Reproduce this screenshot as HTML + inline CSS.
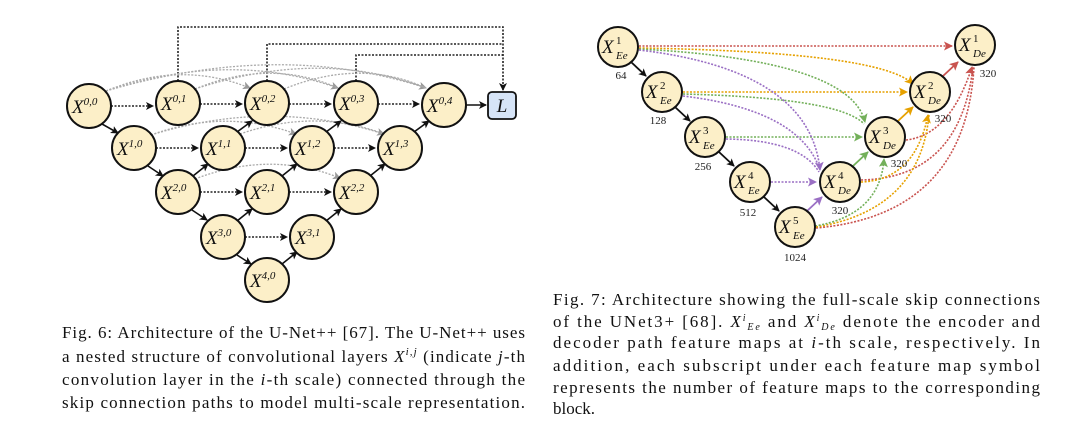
<!DOCTYPE html>
<html><head><meta charset="utf-8"><style>
html,body{margin:0;padding:0;background:#fff;}
svg{display:block;}
.cap{font-family:"Liberation Serif",serif;font-size:17px;fill:#111;}
.n{fill:#fcefc8;stroke:#111;stroke-width:2;}
.x{font-family:"Liberation Serif",serif;font-style:italic;font-size:19px;fill:#111;}
.s{font-family:"Liberation Serif",serif;font-size:11px;fill:#111;}
.num{font-family:"Liberation Serif",serif;font-size:11px;fill:#222;}
.dk{stroke:#222;stroke-width:1.6;stroke-dasharray:2 1.5;fill:none;}
.gr{stroke:#aaa;stroke-width:1.3;stroke-dasharray:2 1.5;fill:none;}
.sl{stroke:#111;stroke-width:1.6;fill:none;}
</style></head><body>
<svg width="1080" height="434" viewBox="0 0 1080 434" xmlns="http://www.w3.org/2000/svg">
<defs>
<marker id="ak" markerWidth="8" markerHeight="8" refX="7" refY="4" orient="auto" markerUnits="userSpaceOnUse"><path d="M0,0 L8,4 L0,8 L2,4z" fill="#111"/></marker>
<marker id="ag" markerWidth="8" markerHeight="8" refX="7" refY="4" orient="auto" markerUnits="userSpaceOnUse"><path d="M0,0 L8,4 L0,8 L2,4z" fill="#999"/></marker>
<marker id="ar" markerWidth="9" markerHeight="9" refX="8" refY="4.5" orient="auto" markerUnits="userSpaceOnUse"><path d="M0,0 L9,4.5 L0,9 L2,4.5z" fill="#c9534f"/></marker>
<marker id="ao" markerWidth="9" markerHeight="9" refX="8" refY="4.5" orient="auto" markerUnits="userSpaceOnUse"><path d="M0,0 L9,4.5 L0,9 L2,4.5z" fill="#e6a100"/></marker>
<marker id="agn" markerWidth="9" markerHeight="9" refX="8" refY="4.5" orient="auto" markerUnits="userSpaceOnUse"><path d="M0,0 L9,4.5 L0,9 L2,4.5z" fill="#73b05a"/></marker>
<marker id="ap" markerWidth="9" markerHeight="9" refX="8" refY="4.5" orient="auto" markerUnits="userSpaceOnUse"><path d="M0,0 L9,4.5 L0,9 L2,4.5z" fill="#9a6fc4"/></marker>
</defs>

<!-- LEFT: top deep supervision lines -->
<path class="dk" d="M178,81 V27 H503 V90" marker-end="url(#ak)"/>
<path class="dk" d="M267,81 V44 H503"/>
<path class="dk" d="M356,81 V55 H503"/>

<!-- gray skip arcs row0 -->
<path class="gr" d="M106,91 Q180,60 250,88" marker-end="url(#ag)"/>
<path class="gr" d="M106,91 Q230,50 338,88" marker-end="url(#ag)"/>
<path class="gr" d="M106,91 Q280,40 426,88" marker-end="url(#ag)"/>
<path class="gr" d="M195,89 Q270,58 338,88"/>
<path class="gr" d="M195,89 Q320,48 426,88"/>
<path class="gr" d="M284,89 Q360,58 426,88"/>
<!-- row1 -->
<path class="gr" d="M151,135 Q225,108 296,134" marker-end="url(#ag)"/>
<path class="gr" d="M151,135 Q270,98 384,134" marker-end="url(#ag)"/>
<path class="gr" d="M240,134 Q315,108 384,134"/>
<!-- row2 -->
<path class="gr" d="M195,179 Q270,150 340,178" marker-end="url(#ag)"/>

<!-- horizontal dotted -->
<g class="dk">
<path d="M111,106 H153" marker-end="url(#ak)"/>
<path d="M200,104 H242" marker-end="url(#ak)"/>
<path d="M289,104 H331" marker-end="url(#ak)"/>
<path d="M378,104 H419" marker-end="url(#ak)"/>
<path d="M156,148 H198" marker-end="url(#ak)"/>
<path d="M245,148 H287" marker-end="url(#ak)"/>
<path d="M334,148 H375" marker-end="url(#ak)"/>
<path d="M200,192 H242" marker-end="url(#ak)"/>
<path d="M289,192 H331" marker-end="url(#ak)"/>
<path d="M245,237 H287" marker-end="url(#ak)"/>
</g>
<!-- solid diagonals -->
<g class="sl">
<path d="M102,124 L118,133" marker-end="url(#ak)"/>
<path d="M148,166 L163,176" marker-end="url(#ak)"/>
<path d="M192,210 L207,220" marker-end="url(#ak)"/>
<path d="M237,255 L251,264" marker-end="url(#ak)"/>
<path d="M193,176 L208,164" marker-end="url(#ak)"/>
<path d="M237,132 L252,121" marker-end="url(#ak)"/>
<path d="M237,221 L252,209" marker-end="url(#ak)"/>
<path d="M282,176 L297,164" marker-end="url(#ak)"/>
<path d="M326,132 L341,121" marker-end="url(#ak)"/>
<path d="M282,264 L297,252" marker-end="url(#ak)"/>
<path d="M326,221 L341,209" marker-end="url(#ak)"/>
<path d="M370,176 L385,164" marker-end="url(#ak)"/>
<path d="M414,132 L429,121" marker-end="url(#ak)"/>
<path d="M466,105 H486" marker-end="url(#ak)"/>
</g>
<rect x="488" y="92" width="28" height="27" rx="4" fill="#d6e4f7" stroke="#111" stroke-width="1.8"/>
<text x="502" y="112" class="x" text-anchor="middle">L</text>

<!-- LEFT nodes -->
<g>
<circle class="n" cx="89" cy="106" r="22"/><text x="72" y="113" class="x">X<tspan class="s" dy="-8">0,0</tspan></text>
<circle class="n" cx="178" cy="103" r="22"/><text x="161" y="110" class="x">X<tspan class="s" dy="-8">0,1</tspan></text>
<circle class="n" cx="267" cy="103" r="22"/><text x="250" y="110" class="x">X<tspan class="s" dy="-8">0,2</tspan></text>
<circle class="n" cx="356" cy="103" r="22"/><text x="339" y="110" class="x">X<tspan class="s" dy="-8">0,3</tspan></text>
<circle class="n" cx="444" cy="105" r="22"/><text x="427" y="112" class="x">X<tspan class="s" dy="-8">0,4</tspan></text>
<circle class="n" cx="134" cy="148" r="22"/><text x="117" y="155" class="x">X<tspan class="s" dy="-8">1,0</tspan></text>
<circle class="n" cx="223" cy="148" r="22"/><text x="206" y="155" class="x">X<tspan class="s" dy="-8">1,1</tspan></text>
<circle class="n" cx="312" cy="148" r="22"/><text x="295" y="155" class="x">X<tspan class="s" dy="-8">1,2</tspan></text>
<circle class="n" cx="400" cy="148" r="22"/><text x="383" y="155" class="x">X<tspan class="s" dy="-8">1,3</tspan></text>
<circle class="n" cx="178" cy="192" r="22"/><text x="161" y="199" class="x">X<tspan class="s" dy="-8">2,0</tspan></text>
<circle class="n" cx="267" cy="192" r="22"/><text x="250" y="199" class="x">X<tspan class="s" dy="-8">2,1</tspan></text>
<circle class="n" cx="356" cy="192" r="22"/><text x="339" y="199" class="x">X<tspan class="s" dy="-8">2,2</tspan></text>
<circle class="n" cx="223" cy="237" r="22"/><text x="206" y="244" class="x">X<tspan class="s" dy="-8">3,0</tspan></text>
<circle class="n" cx="312" cy="237" r="22"/><text x="295" y="244" class="x">X<tspan class="s" dy="-8">3,1</tspan></text>
<circle class="n" cx="267" cy="280" r="22"/><text x="250" y="287" class="x">X<tspan class="s" dy="-8">4,0</tspan></text>
</g>

<!-- RIGHT edges -->
<g fill="none" stroke-width="1.6" stroke-dasharray="2 1.5">
<!-- red -->
<g stroke="#c9534f">
<path d="M639,46 H952" marker-end="url(#ar)"/>
<path d="M906,140 Q950,135 972,67" marker-end="url(#ar)"/>
<path d="M861,180 Q960,178 973,67"/>
<path d="M816,228 Q965,215 974,67"/>
</g>
<!-- orange -->
<g stroke="#e6a100">
<path d="M639,48 Q880,52 913,84" marker-end="url(#ao)"/>
<path d="M683,92 H907" marker-end="url(#ao)"/>
<path d="M861,182 Q915,180 928,115" marker-end="url(#ao)"/>
<path d="M816,227 Q920,210 929,115"/>
</g>
<!-- green -->
<g stroke="#73b05a">
<path d="M639,49 Q850,60 865,122" marker-end="url(#agn)"/>
<path d="M683,94 Q840,98 864,124"/>
<path d="M726,137 H862" marker-end="url(#agn)"/>
<path d="M815,226 Q880,215 884,159" marker-end="url(#agn)"/>
</g>
<!-- purple -->
<g stroke="#9a6fc4">
<path d="M639,50 Q810,70 820,170" marker-end="url(#ap)"/>
<path d="M683,96 Q800,110 820,170"/>
<path d="M726,139 Q800,140 819,172"/>
<path d="M771,182 H816" marker-end="url(#ap)"/>
</g>
</g>
<g fill="none" stroke-width="1.8">
<path d="M631,62 L646,76" stroke="#111" marker-end="url(#ak)"/>
<path d="M675,107 L690,121" stroke="#111" marker-end="url(#ak)"/>
<path d="M719,152 L734,166" stroke="#111" marker-end="url(#ak)"/>
<path d="M764,197 L779,211" stroke="#111" marker-end="url(#ak)"/>
<path d="M807,211 L822,197" stroke="#9a6fc4" marker-end="url(#ap)"/>
<path d="M853,166 L868,152" stroke="#73b05a" marker-end="url(#agn)"/>
<path d="M898,121 L913,107" stroke="#e6a100" marker-end="url(#ao)"/>
<path d="M943,76 L958,62" stroke="#c9534f" marker-end="url(#ar)"/>
</g>

<!-- RIGHT nodes -->
<g>
<circle class="n" cx="618" cy="47" r="20"/><text x="602" y="53" class="x">X</text><text x="616" y="44" class="s">1</text><text x="616" y="59" class="s" font-style="italic">Ee</text>
<circle class="n" cx="662" cy="92" r="20"/><text x="646" y="98" class="x">X</text><text x="660" y="89" class="s">2</text><text x="660" y="104" class="s" font-style="italic">Ee</text>
<circle class="n" cx="705" cy="137" r="20"/><text x="689" y="143" class="x">X</text><text x="703" y="134" class="s">3</text><text x="703" y="149" class="s" font-style="italic">Ee</text>
<circle class="n" cx="750" cy="182" r="20"/><text x="734" y="188" class="x">X</text><text x="748" y="179" class="s">4</text><text x="748" y="194" class="s" font-style="italic">Ee</text>
<circle class="n" cx="795" cy="227" r="20"/><text x="779" y="233" class="x">X</text><text x="793" y="224" class="s">5</text><text x="793" y="239" class="s" font-style="italic">Ee</text>
<circle class="n" cx="840" cy="182" r="20"/><text x="824" y="188" class="x">X</text><text x="838" y="179" class="s">4</text><text x="838" y="194" class="s" font-style="italic">De</text>
<circle class="n" cx="885" cy="137" r="20"/><text x="869" y="143" class="x">X</text><text x="883" y="134" class="s">3</text><text x="883" y="149" class="s" font-style="italic">De</text>
<circle class="n" cx="930" cy="92" r="20"/><text x="914" y="98" class="x">X</text><text x="928" y="89" class="s">2</text><text x="928" y="104" class="s" font-style="italic">De</text>
<circle class="n" cx="975" cy="45" r="20"/><text x="959" y="51" class="x">X</text><text x="973" y="42" class="s">1</text><text x="973" y="57" class="s" font-style="italic">De</text>
<text x="621" y="79" class="num" text-anchor="middle">64</text>
<text x="658" y="124" class="num" text-anchor="middle">128</text>
<text x="703" y="170" class="num" text-anchor="middle">256</text>
<text x="748" y="216" class="num" text-anchor="middle">512</text>
<text x="795" y="261" class="num" text-anchor="middle">1024</text>
<text x="840" y="214" class="num" text-anchor="middle">320</text>
<text x="899" y="167" class="num" text-anchor="middle">320</text>
<text x="943" y="122" class="num" text-anchor="middle">320</text>
<text x="988" y="77" class="num" text-anchor="middle">320</text>
</g>

<!-- captions -->
<text class="cap" x="62" y="338" textLength="463" lengthAdjust="spacing">Fig. 6: Architecture of the U-Net++ [67]. The U-Net++ uses</text>
<text class="cap" x="62" y="362" textLength="463" lengthAdjust="spacing">a nested structure of convolutional layers <tspan font-style="italic">X</tspan><tspan font-size="11" dy="-7" font-style="italic">i,j</tspan><tspan dy="7"> (indicate </tspan><tspan font-style="italic">j</tspan>-th</text>
<text class="cap" x="62" y="385" textLength="463" lengthAdjust="spacing">convolution layer in the <tspan font-style="italic">i</tspan>-th scale) connected through the</text>
<text class="cap" x="62" y="408" textLength="463" lengthAdjust="spacing">skip connection paths to model multi-scale representation.</text>

<text class="cap" x="553" y="305" textLength="487" lengthAdjust="spacing">Fig. 7: Architecture showing the full-scale skip connections</text>
<text class="cap" x="553" y="327" textLength="487" lengthAdjust="spacing">of the UNet3+ [68]. <tspan font-style="italic">X</tspan><tspan font-size="10" dy="-6" font-style="italic">i</tspan><tspan font-size="10" dy="9" font-style="italic">Ee</tspan><tspan dy="-3"> and </tspan><tspan font-style="italic">X</tspan><tspan font-size="10" dy="-6" font-style="italic">i</tspan><tspan font-size="10" dy="9" font-style="italic">De</tspan><tspan dy="-3"> denote the encoder and</tspan></text>
<text class="cap" x="553" y="348" textLength="487" lengthAdjust="spacing">decoder path feature maps at <tspan font-style="italic">i</tspan>-th scale, respectively. In</text>
<text class="cap" x="553" y="371" textLength="487" lengthAdjust="spacing">addition, each subscript under each feature map symbol</text>
<text class="cap" x="553" y="393" textLength="487" lengthAdjust="spacing">represents the number of feature maps to the corresponding</text>
<text class="cap" x="553" y="414">block.</text>
</svg>
</body></html>
